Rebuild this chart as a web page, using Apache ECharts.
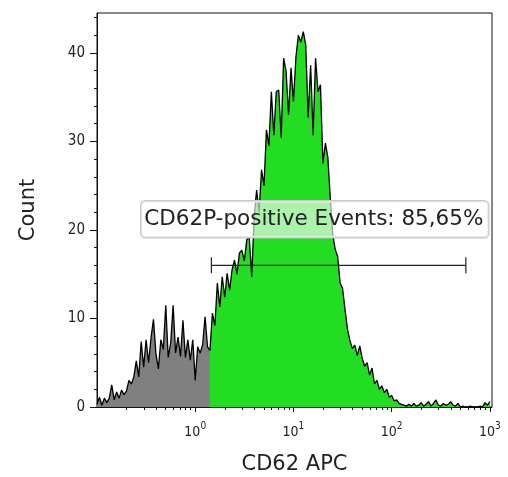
<!DOCTYPE html>
<html><head><meta charset="utf-8">
<script src="https://cdn.jsdelivr.net/npm/echarts@6/dist/echarts.min.js"></script>
<style>html,body{margin:0;padding:0;background:#fff}#c{width:508px;height:477px}</style>
</head><body><div id="c"></div>
<script>
// Histogram channels: log-spaced bins starting at 10^-1, 0.025 decade wide
const binStartLog = -1;
const binStepLog = 0.025;
// Event counts per channel
const counts = [
  0.3, 1.1, 0.2, 1.0, 0.5, 1.0, 2.5, 0.8, 1.7, 1.0,
  1.9, 1.4, 1.8, 3.0, 2.6, 3.4, 5.2, 3.4, 7.4, 4.5,
  7.6, 5.0, 7.8, 9.9, 6.0, 4.3, 7.6, 6.5, 11.5, 5.6,
  7.2, 11.5, 6.1, 7.9, 5.7, 9.8, 5.6, 7.6, 5.3, 7.6,
  3.0, 6.8, 6.1, 7.0, 10.2, 6.8, 6.4, 10.6, 9.2, 14.0,
  11.3, 14.7, 12.4, 15.1, 13.2, 15.5, 16.6, 15.0, 17.4, 17.7,
  16.5, 18.9, 19.2, 14.7, 21.5, 24.5, 22.0, 26.8, 25.0, 31.3,
  29.5, 35.6, 30.7, 35.6, 35.8, 30.4, 39.4, 37.9, 33.0, 38.3,
  34.5, 39.5, 42.0, 41.2, 42.4, 40.9, 32.7, 38.6, 30.7, 39.4,
  35.6, 36.4, 27.5, 29.8, 28.2, 23.6, 19.5, 17.8, 17.0, 14.0,
  13.4, 11.0, 8.8, 7.5, 6.6, 7.0, 5.8, 6.9, 5.5, 4.6,
  5.0, 3.6, 4.4, 2.6, 3.0, 2.0, 2.4, 1.6, 2.0, 1.1,
  1.3, 0.7, 0.8, 0.4, 0.3, 0.2, 0.1, 0.3, 0.1, 0.4,
  0.1, 0.2, 0.5, 0.1, 0.3, 0.6, 0.1, 0.4, 0.8, 0.2,
  0.1, 0.4, 0.2, 0.3, 0.6, 0.2, 0.1, 0.4, 0.0, 0.1,
  0.0, 0.0, 0.1, 0.0, 0.0, 0.0, 0.1, 0.0, 0.5, 0.2,
  0.6
];
// Gate (marker) definition
const gateFrom = 1.46;
const gateTo = 569;
const gateLevel = 16;
const gateLabel = 'CD62P-positive Events: 85,65%';
// Axis ticks
const xMajorTicks = [1, 10, 100, 1000];
const xMinorTicks = [0.2,0.3,0.4,0.5,0.6,0.7,0.8,0.9, 2,3,4,5,6,7,8,9, 20,30,40,50,60,70,80,90, 200,300,400,500,600,700,800,900];
const yMajorTicks = [0, 10, 20, 30, 40];
const yMinorTicks = [2,4,6,8,12,14,16,18,22,24,26,28,32,34,36,38,42,44];
const xTitle = 'CD62 APC';
const yTitle = 'Count';

const channels = counts.map((c, i) => Math.pow(10, binStartLog + i * binStepLog));
let split = 0;
channels.forEach((x, i) => { if (x < gateFrom) split = i; });
const grayData = [], greenData = [];
channels.forEach((x, i) => {
  if (i <= split) grayData.push([x, counts[i]]);
  if (i >= split) greenData.push([x, counts[i]]);
});

const FONT = 'DejaVu Sans';
const TICKFONT = '"DejaVu Sans Condensed", "DejaVu Sans"';
const xMin = 0.1, xMax = 1050, yMax = 44.5;
const chart = echarts.init(document.getElementById('c'), null, {renderer: 'canvas'});
chart.setOption({
  animation: false,
  grid: {left: 97, right: 16, top: 13, bottom: 70, containLabel: false, outerBoundsMode: 'none',
         show: true, borderColor: '#111', borderWidth: 1, backgroundColor: 'transparent'},
  xAxis: [{
    type: 'log', logBase: 10, min: xMin, max: xMax,
    name: xTitle, nameLocation: 'middle', nameGap: 47,
    nameTextStyle: {fontFamily: FONT, fontSize: 21, color: '#222'},
    axisLine: {show: true, lineStyle: {color: '#111', width: 1}},
    axisTick: {show: true, length: 5, customValues: xMajorTicks, lineStyle: {color: '#111'}},
    splitLine: {show: false}, minorTick: {show: false},
    axisLabel: {
      customValues: xMajorTicks, margin: 14,
      formatter: v => '{b|10}{s|' + Math.round(Math.log10(v)) + '}',
      rich: {
        b: {fontFamily: TICKFONT, fontSize: 14, color: '#222', lineHeight: 18, verticalAlign: 'bottom'},
        s: {fontFamily: TICKFONT, fontSize: 10, color: '#222', lineHeight: 11, verticalAlign: 'top'}
      }
    }
  }, {
    type: 'log', logBase: 10, min: xMin, max: xMax, position: 'bottom', gridIndex: 0,
    axisLine: {show: false},
    axisTick: {show: true, length: 3, customValues: xMinorTicks, lineStyle: {color: '#111'}},
    axisLabel: {show: false}, splitLine: {show: false}
  }],
  yAxis: [{
    type: 'value', min: 0, max: yMax, interval: 10,
    name: yTitle, nameLocation: 'middle', nameGap: 58, nameRotate: 90,
    nameTextStyle: {fontFamily: FONT, fontSize: 21, color: '#222'},
    axisLine: {show: true, lineStyle: {color: '#111', width: 1}},
    axisTick: {show: true, length: 7, customValues: yMajorTicks, lineStyle: {color: '#111'}},
    axisLabel: {customValues: yMajorTicks, margin: 12, fontFamily: TICKFONT, fontSize: 15, color: '#222'},
    splitLine: {show: false}
  }, {
    type: 'value', min: 0, max: yMax, interval: 2, position: 'left', gridIndex: 0,
    axisLine: {show: false},
    axisTick: {show: true, length: 3, customValues: yMinorTicks, lineStyle: {color: '#111'}},
    axisLabel: {show: false}, splitLine: {show: false}
  }],
  series: [{
    type: 'line', data: grayData, symbol: 'none', showSymbol: false,
    lineStyle: {color: '#000', width: 1.3},
    areaStyle: {color: '#808080', opacity: 1}, z: 2
  }, {
    type: 'line', data: greenData, symbol: 'none', showSymbol: false,
    lineStyle: {color: '#000', width: 1.3},
    areaStyle: {color: '#22dd22', opacity: 1}, z: 2
  }, {
    type: 'custom', data: [[gateFrom, gateTo, gateLevel]], encode: {x: [0, 1], y: 2}, z: 5,
    renderItem: (params, api) => {
      const a = api.coord([api.value(0), api.value(2)]);
      const b = api.coord([api.value(1), api.value(2)]);
      const h = 8, st = {stroke: '#222', lineWidth: 1.2};
      return {type: 'group', children: [
        {type: 'line', shape: {x1: a[0], y1: a[1], x2: b[0], y2: b[1]}, style: st},
        {type: 'line', shape: {x1: a[0], y1: a[1] - h, x2: a[0], y2: a[1] + h}, style: st},
        {type: 'line', shape: {x1: b[0], y1: b[1] - h, x2: b[0], y2: b[1] + h}, style: st}
      ]};
    }
  }],
  graphic: [{
    type: 'text', left: 140, top: 200, z: 100,
    style: {
      text: gateLabel, font: '21.5px "DejaVu Sans"', fill: '#222',
      backgroundColor: 'rgba(255,255,255,0.62)', borderColor: '#c8c8c8', borderWidth: 1.2, borderRadius: 4,
      padding: [5, 5, 5, 3], lineHeight: 26
    }
  }]
});
</script></body></html>
